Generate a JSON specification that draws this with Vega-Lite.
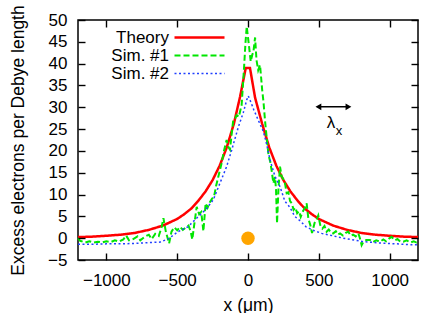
{
  "$schema": "https://vega.github.io/schema/vega-lite/v6.json",
  "width": 340,
  "height": 240,
  "autosize": "none",
  "background": "white",
  "padding": {"left": 78, "top": 20, "right": 29, "bottom": 53},
  "config": {
    "font": "Liberation Sans",
    "view": {"stroke": "black", "strokeWidth": 1.5, "fill": "transparent"},
    "axis": {
      "domain": false,
      "grid": false,
      "ticks": true,
      "zindex": 1,
      "offset": -7,
      "tickColor": "black",
      "tickSize": 7,
      "tickWidth": 1.4,
      "tickOpacity": 1,
      "labelColor": "black",
      "labelFontSize": 17,
      "titleColor": "black",
      "titleFontSize": 17.5,
      "titleFontWeight": "normal"
    }
  },
  "datasets": {
    "curves": [
      {"series": "Theory", "x": -1200, "y": 0.25},
      {"series": "Theory", "x": -1100, "y": 0.35},
      {"series": "Theory", "x": -1000, "y": 0.55},
      {"series": "Theory", "x": -900, "y": 0.8},
      {"series": "Theory", "x": -800, "y": 1.2},
      {"series": "Theory", "x": -700, "y": 1.9},
      {"series": "Theory", "x": -600, "y": 2.9},
      {"series": "Theory", "x": -500, "y": 4.4},
      {"series": "Theory", "x": -450, "y": 5.5},
      {"series": "Theory", "x": -400, "y": 6.8},
      {"series": "Theory", "x": -350, "y": 8.6},
      {"series": "Theory", "x": -300, "y": 10.7},
      {"series": "Theory", "x": -250, "y": 13.3},
      {"series": "Theory", "x": -200, "y": 16.6},
      {"series": "Theory", "x": -150, "y": 20.8},
      {"series": "Theory", "x": -100, "y": 26.2},
      {"series": "Theory", "x": -56, "y": 32.4},
      {"series": "Theory", "x": -16, "y": 39},
      {"series": "Theory", "x": 14, "y": 39},
      {"series": "Theory", "x": 50, "y": 32.2},
      {"series": "Theory", "x": 100, "y": 26.2},
      {"series": "Theory", "x": 150, "y": 20.8},
      {"series": "Theory", "x": 200, "y": 16.6},
      {"series": "Theory", "x": 250, "y": 13.3},
      {"series": "Theory", "x": 300, "y": 10.7},
      {"series": "Theory", "x": 350, "y": 8.6},
      {"series": "Theory", "x": 400, "y": 6.8},
      {"series": "Theory", "x": 450, "y": 5.5},
      {"series": "Theory", "x": 500, "y": 4.4},
      {"series": "Theory", "x": 600, "y": 2.9},
      {"series": "Theory", "x": 700, "y": 1.9},
      {"series": "Theory", "x": 800, "y": 1.2},
      {"series": "Theory", "x": 900, "y": 0.8},
      {"series": "Theory", "x": 1000, "y": 0.55},
      {"series": "Theory", "x": 1100, "y": 0.35},
      {"series": "Theory", "x": 1200, "y": 0.25},

      {"series": "Sim. #1", "x": -1200, "y": 0.0},
      {"series": "Sim. #1", "x": -1185, "y": -0.6},
      {"series": "Sim. #1", "x": -1150, "y": -1.0},
      {"series": "Sim. #1", "x": -1120, "y": -0.7},
      {"series": "Sim. #1", "x": -1090, "y": -1.0},
      {"series": "Sim. #1", "x": -1060, "y": -0.8},
      {"series": "Sim. #1", "x": -1030, "y": -1.0},
      {"series": "Sim. #1", "x": -1000, "y": -0.7},
      {"series": "Sim. #1", "x": -970, "y": -0.9},
      {"series": "Sim. #1", "x": -940, "y": -0.5},
      {"series": "Sim. #1", "x": -910, "y": -0.8},
      {"series": "Sim. #1", "x": -880, "y": -0.3},
      {"series": "Sim. #1", "x": -860, "y": 0.6},
      {"series": "Sim. #1", "x": -840, "y": -0.5},
      {"series": "Sim. #1", "x": -810, "y": -0.2},
      {"series": "Sim. #1", "x": -780, "y": 0.4},
      {"series": "Sim. #1", "x": -760, "y": -0.5},
      {"series": "Sim. #1", "x": -730, "y": 0.3},
      {"series": "Sim. #1", "x": -700, "y": 0.8},
      {"series": "Sim. #1", "x": -680, "y": -0.2},
      {"series": "Sim. #1", "x": -655, "y": 1.0},
      {"series": "Sim. #1", "x": -630, "y": 0.5},
      {"series": "Sim. #1", "x": -610, "y": 2.5},
      {"series": "Sim. #1", "x": -597, "y": 4.6},
      {"series": "Sim. #1", "x": -580, "y": 1.5},
      {"series": "Sim. #1", "x": -557, "y": -1.2},
      {"series": "Sim. #1", "x": -540, "y": 1.5},
      {"series": "Sim. #1", "x": -520, "y": 2.5},
      {"series": "Sim. #1", "x": -500, "y": 1.8},
      {"series": "Sim. #1", "x": -480, "y": 2.6},
      {"series": "Sim. #1", "x": -460, "y": 1.9},
      {"series": "Sim. #1", "x": -440, "y": 2.4},
      {"series": "Sim. #1", "x": -420, "y": 2.9},
      {"series": "Sim. #1", "x": -405, "y": 1.6},
      {"series": "Sim. #1", "x": -393, "y": -0.3},
      {"series": "Sim. #1", "x": -380, "y": 3.0},
      {"series": "Sim. #1", "x": -362, "y": 7.2},
      {"series": "Sim. #1", "x": -345, "y": 5.5},
      {"series": "Sim. #1", "x": -330, "y": 6.0},
      {"series": "Sim. #1", "x": -315, "y": 1.6},
      {"series": "Sim. #1", "x": -299, "y": 8.0},
      {"series": "Sim. #1", "x": -285, "y": 7.0},
      {"series": "Sim. #1", "x": -270, "y": 8.2},
      {"series": "Sim. #1", "x": -255, "y": 9.0},
      {"series": "Sim. #1", "x": -240, "y": 9.5},
      {"series": "Sim. #1", "x": -225, "y": 12.0},
      {"series": "Sim. #1", "x": -210, "y": 14.0},
      {"series": "Sim. #1", "x": -186, "y": 17.2},
      {"series": "Sim. #1", "x": -170, "y": 20.0},
      {"series": "Sim. #1", "x": -151, "y": 22.5},
      {"series": "Sim. #1", "x": -140, "y": 21.0},
      {"series": "Sim. #1", "x": -127, "y": 20.3},
      {"series": "Sim. #1", "x": -115, "y": 24.0},
      {"series": "Sim. #1", "x": -104, "y": 27.1},
      {"series": "Sim. #1", "x": -90, "y": 27.5},
      {"series": "Sim. #1", "x": -80, "y": 28.2},
      {"series": "Sim. #1", "x": -65, "y": 27.8},
      {"series": "Sim. #1", "x": -45, "y": 30.5},
      {"series": "Sim. #1", "x": -28, "y": 39.0},
      {"series": "Sim. #1", "x": -18, "y": 44.7},
      {"series": "Sim. #1", "x": -9, "y": 48.5},
      {"series": "Sim. #1", "x": 0, "y": 46.0},
      {"series": "Sim. #1", "x": 9, "y": 43.5},
      {"series": "Sim. #1", "x": 19, "y": 40.5},
      {"series": "Sim. #1", "x": 30, "y": 42.0},
      {"series": "Sim. #1", "x": 38, "y": 42.7},
      {"series": "Sim. #1", "x": 50, "y": 46.0},
      {"series": "Sim. #1", "x": 60, "y": 40.8},
      {"series": "Sim. #1", "x": 72, "y": 38.5},
      {"series": "Sim. #1", "x": 85, "y": 39.7},
      {"series": "Sim. #1", "x": 100, "y": 34.0},
      {"series": "Sim. #1", "x": 110, "y": 31.0},
      {"series": "Sim. #1", "x": 120, "y": 27.0},
      {"series": "Sim. #1", "x": 132, "y": 23.0},
      {"series": "Sim. #1", "x": 145, "y": 19.0},
      {"series": "Sim. #1", "x": 157, "y": 17.5},
      {"series": "Sim. #1", "x": 167, "y": 15.5},
      {"series": "Sim. #1", "x": 179, "y": 12.6},
      {"series": "Sim. #1", "x": 191, "y": 14.0},
      {"series": "Sim. #1", "x": 198, "y": 11.0},
      {"series": "Sim. #1", "x": 205, "y": 3.4},
      {"series": "Sim. #1", "x": 215, "y": 11.3},
      {"series": "Sim. #1", "x": 226, "y": 16.4},
      {"series": "Sim. #1", "x": 238, "y": 14.1},
      {"series": "Sim. #1", "x": 250, "y": 13.5},
      {"series": "Sim. #1", "x": 261, "y": 12.6},
      {"series": "Sim. #1", "x": 273, "y": 10.3},
      {"series": "Sim. #1", "x": 285, "y": 10.5},
      {"series": "Sim. #1", "x": 297, "y": 8.5},
      {"series": "Sim. #1", "x": 309, "y": 8.0},
      {"series": "Sim. #1", "x": 322, "y": 6.5},
      {"series": "Sim. #1", "x": 335, "y": 7.0},
      {"series": "Sim. #1", "x": 347, "y": 5.7},
      {"series": "Sim. #1", "x": 360, "y": 6.2},
      {"series": "Sim. #1", "x": 372, "y": 4.9},
      {"series": "Sim. #1", "x": 385, "y": 6.0},
      {"series": "Sim. #1", "x": 402, "y": 7.0},
      {"series": "Sim. #1", "x": 414, "y": 8.0},
      {"series": "Sim. #1", "x": 426, "y": 4.5},
      {"series": "Sim. #1", "x": 440, "y": 3.0},
      {"series": "Sim. #1", "x": 452, "y": 1.2},
      {"series": "Sim. #1", "x": 470, "y": 3.5},
      {"series": "Sim. #1", "x": 485, "y": 4.3},
      {"series": "Sim. #1", "x": 496, "y": 5.2},
      {"series": "Sim. #1", "x": 510, "y": 3.0},
      {"series": "Sim. #1", "x": 525, "y": 2.2},
      {"series": "Sim. #1", "x": 540, "y": 2.8},
      {"series": "Sim. #1", "x": 555, "y": 1.5},
      {"series": "Sim. #1", "x": 570, "y": 2.0},
      {"series": "Sim. #1", "x": 587, "y": 1.2},
      {"series": "Sim. #1", "x": 602, "y": 1.1},
      {"series": "Sim. #1", "x": 620, "y": 1.6},
      {"series": "Sim. #1", "x": 635, "y": 0.8},
      {"series": "Sim. #1", "x": 650, "y": 1.1},
      {"series": "Sim. #1", "x": 670, "y": 0.6},
      {"series": "Sim. #1", "x": 690, "y": 1.2},
      {"series": "Sim. #1", "x": 708, "y": 1.5},
      {"series": "Sim. #1", "x": 725, "y": 0.6},
      {"series": "Sim. #1", "x": 742, "y": 0.8},
      {"series": "Sim. #1", "x": 760, "y": 0.4},
      {"series": "Sim. #1", "x": 779, "y": 1.1},
      {"series": "Sim. #1", "x": 790, "y": 0.0},
      {"series": "Sim. #1", "x": 802, "y": -1.6},
      {"series": "Sim. #1", "x": 815, "y": -0.8},
      {"series": "Sim. #1", "x": 835, "y": -0.4},
      {"series": "Sim. #1", "x": 861, "y": -0.4},
      {"series": "Sim. #1", "x": 880, "y": -0.9},
      {"series": "Sim. #1", "x": 905, "y": -0.5},
      {"series": "Sim. #1", "x": 932, "y": -0.8},
      {"series": "Sim. #1", "x": 955, "y": -0.3},
      {"series": "Sim. #1", "x": 975, "y": -0.7},
      {"series": "Sim. #1", "x": 995, "y": -0.1},
      {"series": "Sim. #1", "x": 1014, "y": 0.3},
      {"series": "Sim. #1", "x": 1035, "y": -0.5},
      {"series": "Sim. #1", "x": 1055, "y": -0.2},
      {"series": "Sim. #1", "x": 1075, "y": -0.8},
      {"series": "Sim. #1", "x": 1096, "y": -0.8},
      {"series": "Sim. #1", "x": 1120, "y": -0.5},
      {"series": "Sim. #1", "x": 1145, "y": -1.0},
      {"series": "Sim. #1", "x": 1170, "y": -0.7},
      {"series": "Sim. #1", "x": 1190, "y": -1.0},
      {"series": "Sim. #1", "x": 1200, "y": -0.9},

      {"series": "Sim. #2", "x": -1200, "y": -1.4},
      {"series": "Sim. #2", "x": -1100, "y": -1.4},
      {"series": "Sim. #2", "x": -1000, "y": -1.3},
      {"series": "Sim. #2", "x": -900, "y": -1.3},
      {"series": "Sim. #2", "x": -800, "y": -1.2},
      {"series": "Sim. #2", "x": -700, "y": -1.0},
      {"series": "Sim. #2", "x": -620, "y": -0.9},
      {"series": "Sim. #2", "x": -560, "y": -0.1},
      {"series": "Sim. #2", "x": -494, "y": 1.5},
      {"series": "Sim. #2", "x": -424, "y": 2.6},
      {"series": "Sim. #2", "x": -365, "y": 4.5},
      {"series": "Sim. #2", "x": -300, "y": 6.5},
      {"series": "Sim. #2", "x": -245, "y": 8.8},
      {"series": "Sim. #2", "x": -198, "y": 12.6},
      {"series": "Sim. #2", "x": -151, "y": 16.4},
      {"series": "Sim. #2", "x": -115, "y": 20.2},
      {"series": "Sim. #2", "x": -68, "y": 25.5},
      {"series": "Sim. #2", "x": -33, "y": 28.8},
      {"series": "Sim. #2", "x": -9, "y": 31.7},
      {"series": "Sim. #2", "x": 2, "y": 32.6},
      {"series": "Sim. #2", "x": 20, "y": 31.2},
      {"series": "Sim. #2", "x": 40, "y": 29.5},
      {"series": "Sim. #2", "x": 73, "y": 27.0},
      {"series": "Sim. #2", "x": 108, "y": 24.5},
      {"series": "Sim. #2", "x": 132, "y": 21.5},
      {"series": "Sim. #2", "x": 155, "y": 18.0},
      {"series": "Sim. #2", "x": 190, "y": 14.2},
      {"series": "Sim. #2", "x": 226, "y": 11.8},
      {"series": "Sim. #2", "x": 260, "y": 8.5},
      {"series": "Sim. #2", "x": 297, "y": 7.0},
      {"series": "Sim. #2", "x": 330, "y": 5.0},
      {"series": "Sim. #2", "x": 367, "y": 4.0},
      {"series": "Sim. #2", "x": 410, "y": 2.6},
      {"series": "Sim. #2", "x": 461, "y": 1.8},
      {"series": "Sim. #2", "x": 520, "y": 1.1},
      {"series": "Sim. #2", "x": 579, "y": 0.7},
      {"series": "Sim. #2", "x": 673, "y": 0.0},
      {"series": "Sim. #2", "x": 760, "y": -0.5},
      {"series": "Sim. #2", "x": 814, "y": -0.8},
      {"series": "Sim. #2", "x": 932, "y": -1.1},
      {"series": "Sim. #2", "x": 1050, "y": -1.3},
      {"series": "Sim. #2", "x": 1143, "y": -1.5},
      {"series": "Sim. #2", "x": 1200, "y": -1.5}
    ],
    "source": [{"x": 0, "y": 0}],
    "arrow": [{"x": 492, "x2": 714, "y": 30.1}],
    "heads": [{"x": 497, "y": 30.1, "end": "left"}, {"x": 709, "y": 30.1, "end": "right"}],
    "lambda": [{"x": 586, "y": 26.4, "t": "λ"}],
    "sub": [{"x": 643, "y": 24.6, "t": "x"}]
  },
  "resolve": {"axis": {"x": "independent", "y": "independent"}},
  "layer": [
    {
      "data": {"name": "curves"},
      "mark": {"type": "line"},
      "encoding": {
        "x": {
          "field": "x", "type": "quantitative",
          "scale": {"domain": [-1200, 1200], "nice": false, "zero": false},
          "axis": {"values": [-1000, -500, 0, 500, 1000], "format": "d", "title": "x (μm)", "labelPadding": 12, "titlePadding": 8, "zindex": 2}
        },
        "y": {
          "field": "y", "type": "quantitative",
          "scale": {"domain": [-5, 50], "nice": false, "zero": false},
          "axis": {"values": [-5, 0, 5, 10, 15, 20, 25, 30, 35, 40, 45, 50], "format": "d", "title": "Excess electrons per Debye length", "labelPadding": 11, "titlePadding": 20, "zindex": 2}
        },
        "color": {
          "field": "series", "type": "nominal",
          "scale": {"domain": ["Theory", "Sim. #1", "Sim. #2"], "range": ["#ff0000", "#00e600", "#2040ff"]},
          "legend": {
            "title": null, "orient": "none", "legendX": 113, "legendY": 9,
            "direction": "vertical", "symbolType": "M-5,0L5,0", "symbolSize": 100,
            "symbolStrokeWidth": 2, "labelAlign": "right", "labelOffset": -39,
            "labelFontSize": 17, "labelColor": "black", "rowPadding": 0, "padding": 0
          }
        },
        "strokeDash": {
          "field": "series", "type": "nominal",
          "scale": {"domain": ["Theory", "Sim. #1", "Sim. #2"], "range": [[1, 0], [6, 3], [2, 2.5]]},
          "legend": {
            "title": null, "orient": "none", "legendX": 113, "legendY": 9,
            "direction": "vertical", "symbolType": "M-5,0L5,0", "symbolSize": 100,
            "symbolStrokeWidth": 2, "labelAlign": "right", "labelOffset": -39,
            "labelFontSize": 17, "labelColor": "black", "rowPadding": 0, "padding": 0
          }
        },
        "strokeWidth": {
          "field": "series", "type": "nominal",
          "scale": {"domain": ["Theory", "Sim. #1", "Sim. #2"], "range": [2.5, 1.5, 2.5]},
          "legend": null
        }
      }
    },
    {
      "data": {"name": "source"},
      "mark": {"type": "point", "filled": true, "size": 180, "color": "#ffa500", "opacity": 1},
      "encoding": {
        "x": {"field": "x", "type": "quantitative", "axis": {"orient": "top", "values": [-1000, -500, 0, 500, 1000], "labels": false, "title": null, "zindex": 2}},
        "y": {"field": "y", "type": "quantitative", "axis": {"orient": "right", "values": [-5, 0, 5, 10, 15, 20, 25, 30, 35, 40, 45, 50], "labels": false, "title": null, "zindex": 2}}
      }
    },
    {
      "data": {"name": "arrow"},
      "mark": {"type": "rule", "color": "black", "strokeWidth": 1.5},
      "encoding": {
        "x": {"field": "x", "type": "quantitative", "axis": null},
        "x2": {"field": "x2"},
        "y": {"field": "y", "type": "quantitative", "axis": null}
      }
    },
    {
      "data": {"name": "heads"},
      "mark": {"type": "point", "filled": true, "size": 45, "color": "black", "opacity": 1},
      "encoding": {
        "x": {"field": "x", "type": "quantitative", "axis": null},
        "y": {"field": "y", "type": "quantitative", "axis": null},
        "shape": {"field": "end", "type": "nominal", "scale": {"domain": ["left", "right"], "range": ["triangle-left", "triangle-right"]}, "legend": null}
      }
    },
    {
      "data": {"name": "lambda"},
      "mark": {"type": "text", "fontSize": 17, "color": "black", "baseline": "middle", "align": "center"},
      "encoding": {
        "x": {"field": "x", "type": "quantitative", "axis": null},
        "y": {"field": "y", "type": "quantitative", "axis": null},
        "text": {"field": "t"}
      }
    },
    {
      "data": {"name": "sub"},
      "mark": {"type": "text", "fontSize": 13, "color": "black", "baseline": "middle", "align": "center"},
      "encoding": {
        "x": {"field": "x", "type": "quantitative", "axis": null},
        "y": {"field": "y", "type": "quantitative", "axis": null},
        "text": {"field": "t"}
      }
    }
  ]
}
